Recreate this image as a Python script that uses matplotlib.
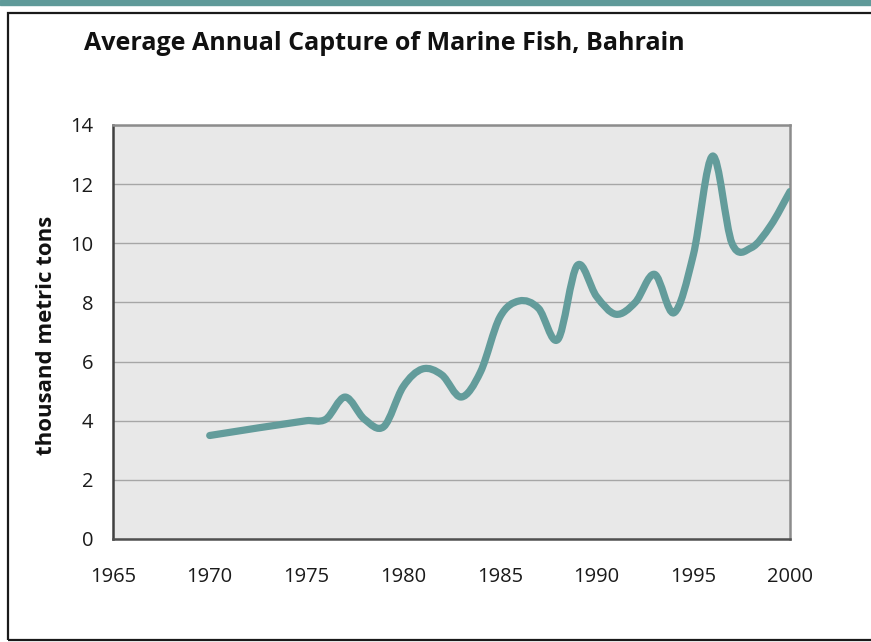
import numpy as np
import matplotlib
matplotlib.use("Agg")
import matplotlib.pyplot as plt
from matplotlib.path import Path
from matplotlib.patches import PathPatch, Rectangle

plt.rcParams['font.family'] = ['Open Sans', 'DejaVu Sans']

# data (thousand metric tons)
years = [1970, 1975, 1976, 1977, 1978, 1979, 1980, 1981, 1982, 1983, 1984,
         1985, 1986, 1987, 1988, 1989, 1990, 1991, 1992, 1993, 1994, 1995,
         1996, 1997, 1998, 1999, 2000]
capture = [3.5, 4.0, 4.05, 4.8, 4.05, 3.8, 5.15, 5.75, 5.55, 4.8, 5.65,
           7.5, 8.05, 7.8, 6.75, 9.25, 8.2, 7.6, 8.0, 8.95, 7.65, 9.6,
           12.95, 10.0, 9.85, 10.6, 11.75]
x_ticks = [1965, 1970, 1975, 1980, 1985, 1990, 1995, 2000]
y_ticks = [0, 2, 4, 6, 8, 10, 12, 14]

teal = '#639c9b'

fig = plt.figure(figsize=(8.71, 6.42), dpi=100)

# page decoration: teal strip on top and black frame
fig.patches.append(Rectangle((0, 1 - 5 / 642), 1, 5 / 642, transform=fig.transFigure,
                             color='#5f9a99', zorder=0))
fig.patches.append(Rectangle((8 / 871, 2 / 642), 1.0, 627 / 642, transform=fig.transFigure,
                             fill=False, edgecolor='#1a1a1a', linewidth=1.6, zorder=0))

ax = fig.add_axes([113 / 871, 103 / 642, 677 / 871, 414 / 642])
ax.set_facecolor('#e8e8e8')

# smooth curve through the points (cubic bezier segments, like a spreadsheet "smoothed line")
x = np.array(years, dtype=float)
y = np.array(capture, dtype=float)
n = len(x)
m = np.zeros(n)
for i in range(n):
    if i == 0:
        m[i] = (y[1] - y[0]) / (x[1] - x[0])
    elif i == n - 1:
        m[i] = (y[-1] - y[-2]) / (x[-1] - x[-2])
    else:
        m[i] = (y[i + 1] - y[i - 1]) / (x[i + 1] - x[i - 1])
verts = [(x[0], y[0])]
codes = [Path.MOVETO]
for i in range(n - 1):
    h = x[i + 1] - x[i]
    verts += [(x[i] + h / 3, y[i] + m[i] * h / 3),
              (x[i + 1] - h / 3, y[i + 1] - m[i + 1] * h / 3),
              (x[i + 1], y[i + 1])]
    codes += [Path.CURVE4] * 3
ax.add_patch(PathPatch(Path(verts, codes), fill=False, edgecolor=teal,
                       linewidth=5.2, capstyle='round', joinstyle='round', zorder=3))

ax.set_xlim(1965, 2000)
ax.set_ylim(0, 14)
ax.set_xticks(x_ticks)
ax.set_yticks(y_ticks)
ax.tick_params(axis='both', length=0, labelsize=14.5, colors='#1a1a1a')
ax.tick_params(axis='x', pad=20.5)
ax.tick_params(axis='y', pad=14)
ax.grid(axis='y', color='#a6a6a6', linewidth=1.0, zorder=1)
ax.set_axisbelow(True)

ax.spines['left'].set_color('#404040')
ax.spines['bottom'].set_color('#505050')
ax.spines['top'].set_color('#8c8c8c')
ax.spines['right'].set_color('#8c8c8c')
for s in ax.spines.values():
    s.set_linewidth(1.8)

fig.text(84 / 871, 1 - 43 / 642, 'Average Annual Capture of Marine Fish, Bahrain',
         fontsize=18, fontweight='bold', va='center', ha='left', color='#111111')
fig.text(47 / 871, 1 - 335 / 642, 'thousand metric tons', rotation=90,
         fontsize=16, fontweight='bold', va='center', ha='center', color='#111111')

plt.savefig('out.png', dpi=100)
